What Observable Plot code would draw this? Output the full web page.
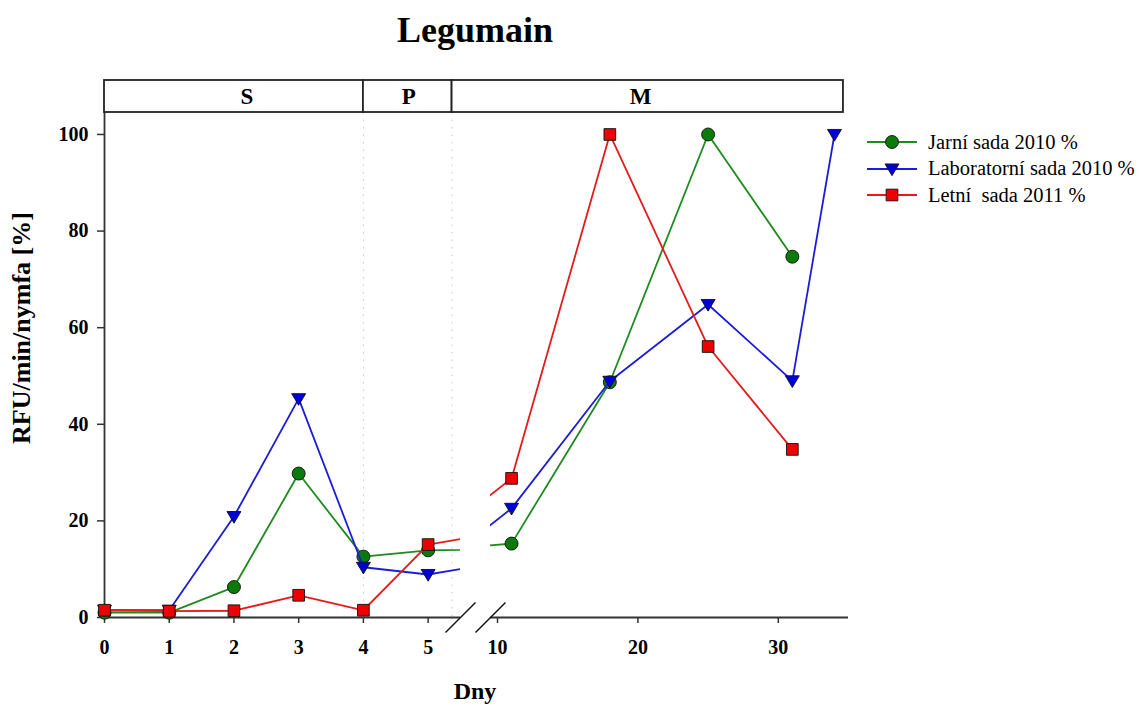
<!DOCTYPE html>
<html>
<head>
<meta charset="utf-8">
<script src="https://cdn.jsdelivr.net/npm/d3@7"></script>
<script src="https://cdn.jsdelivr.net/npm/@observablehq/plot@0.6"></script>
<style>
  body { margin: 0; background: #fff; }
  #chart { position: relative; width: 1144px; height: 706px; overflow: hidden;
           font-family: "Liberation Serif", "Times New Roman", serif; color: #000; }
  #chart svg.layer { position: absolute; left: 0; top: 0; }
  .title { position: absolute; left: 275px; width: 400px; top: 12px; text-align: center;
           font-weight: bold; font-size: 36px; line-height: 36px; }
  .ylab { position: absolute; left: -178px; width: 400px; top: 315px; text-align: center;
          font-weight: bold; font-size: 26px; line-height: 26px; transform: rotate(-90deg); }
  .xlab { position: absolute; left: 375px; width: 200px; top: 679px; text-align: center;
          font-weight: bold; font-size: 24px; line-height: 24px; }
  .legend { position: absolute; left: 866px; top: 129px; font-size: 20.5px; }
  .legend .row { height: 26.5px; display: flex; align-items: center; white-space: pre; }
  .legend svg { margin-right: 10px; }
</style>
</head>
<body>
<div id="chart">
  <div class="title">Legumain</div>
  <div class="ylab">RFU/min/nymfa [%]</div>
  <div class="xlab">Dny</div>
  <div class="legend" id="legend"></div>
</div>
<script>
// ---------- data ----------
const seriesNames = ["Jarní sada 2010 %", "Laboratorní sada 2010 %", "Letní  sada 2011 %"];
const jarniDays   = [0, 1, 2, 3, 4, 5, 11, 18, 25, 31];
const jarniValues = [1.0, 1.0, 6.3, 29.8, 12.6, 13.9, 15.3, 48.7, 100, 74.7];
const labDays     = [0, 1, 2, 3, 4, 5, 11, 18, 25, 31, 34];
const labValues   = [1.5, 1.5, 20.9, 45.3, 10.4, 8.9, 22.6, 48.9, 64.8, 49.0, 100];
const letniDays   = [0, 1, 2, 3, 4, 5, 11, 18, 25, 31];
const letniValues = [1.5, 1.3, 1.4, 4.6, 1.5, 15.1, 28.8, 100, 56.1, 34.8];
const leftTicks  = [0, 1, 2, 3, 4, 5];
const rightTicks = [10, 20, 30];
const yTicks     = [0, 20, 40, 60, 80, 100];
const phases       = ["S", "P", "M"];
const phaseStart   = [0, 4, 5.37];
const phaseEnd     = [4, 5.37, 34.64];
const phaseLabelAt = [2.2, 4.7, 20.2];

// ---------- styling / layout ----------
const W = 1144, H = 706;
const leftDomain = [0, 5.5], rightDomain = [9.5, 35];
const leftRange = [104, 460], rightRange = [490, 848];
const yDomain = [0, 104.55];
const mTop = 112, mBottom = 89;
const lineColors = ["#1f8a1f", "#1c1cd8", "#e41b1b"];
const fillColors = ["#0a7a0a", "#0000dd", "#ee0000"];
const axisColor = "#333";

const triDown = { draw(ctx, size) { const r = Math.sqrt(size / Math.PI);
  ctx.moveTo(-r, -0.72 * r); ctx.lineTo(r, -0.72 * r); ctx.lineTo(0, 0.95 * r); ctx.closePath(); } };
const slash = { draw(ctx, size) { const r = Math.sqrt(size / Math.PI);
  ctx.moveTo(-r, r); ctx.lineTo(r, -r); } };
const symbols = ["circle", triDown, "square"];
const symbolR = [6.5, 7, 6.6];

const rows = [];
[[jarniDays, jarniValues], [labDays, labValues], [letniDays, letniValues]].forEach(([ds, vs], i) => {
  ds.forEach((d, j) => rows.push({ series: seriesNames[i], idx: i, day: d, value: vs[j] }));
});

function seriesMarks(lo, hi) {
  const marks = [];
  seriesNames.forEach((name, i) => {
    const data = rows.filter(r => r.idx === i);
    marks.push(Plot.line(data, { x: "day", y: "value", stroke: lineColors[i], strokeWidth: 1.8, clip: true }));
    marks.push(Plot.dot(data, { x: "day", y: "value", filter: r => r.day >= lo && r.day <= hi,
      symbol: symbols[i], r: symbolR[i], fill: fillColors[i], stroke: "#111", strokeWidth: 0.9 }));
  });
  return marks;
}

const baseStyle = { background: "transparent", overflow: "visible",
  fontFamily: '"Liberation Serif", "Times New Roman", serif', fontSize: "20px", fontWeight: "bold" };

// left panel
const leftPlot = Plot.plot({
  width: W, height: H,
  marginLeft: leftRange[0], marginRight: W - leftRange[1], marginTop: mTop, marginBottom: mBottom,
  style: baseStyle,
  x: { domain: leftDomain },
  y: { domain: yDomain },
  marks: [
    Plot.ruleX(phaseStart.slice(1), { stroke: "#c8c8c8", strokeDasharray: "1.5,6", strokeWidth: 1 }),
    Plot.axisY({ ticks: yTicks, tickSize: 7, tickPadding: 9, tickFormat: d => String(d), label: null,
                 stroke: axisColor, strokeWidth: 1.5 }),
    Plot.axisX({ ticks: leftTicks, tickSize: 6, tickPadding: 16, tickFormat: d => String(d), label: null,
                 stroke: axisColor, strokeWidth: 1.5 }),
    Plot.ruleX([leftDomain[0]], { stroke: axisColor, strokeWidth: 1.8 }),
    Plot.ruleY([0], { stroke: axisColor, strokeWidth: 1.8 }),
    ...seriesMarks(leftDomain[0], leftDomain[1]),
    Plot.dot([leftDomain[1]], { x: d => d, y: () => 0, symbol: slash, r: 15, stroke: "#111", strokeWidth: 1.4, fill: "none" })
  ]
});

// right panel
const rightPlot = Plot.plot({
  width: W, height: H,
  marginLeft: rightRange[0], marginRight: W - rightRange[1], marginTop: mTop, marginBottom: mBottom,
  style: baseStyle,
  x: { domain: rightDomain },
  y: { domain: yDomain, axis: null },
  marks: [
    Plot.axisX({ ticks: rightTicks, tickSize: 6, tickPadding: 16, tickFormat: d => String(d), label: null,
                 stroke: axisColor, strokeWidth: 1.5 }),
    Plot.ruleY([0], { stroke: axisColor, strokeWidth: 1.8 }),
    ...seriesMarks(rightDomain[0], rightDomain[1]),
    Plot.dot([rightDomain[0]], { x: d => d, y: () => 0, symbol: slash, r: 15, stroke: "#111", strokeWidth: 1.4, fill: "none" })
  ]
});

// header band (piecewise scale spanning the break)
const headerPlot = Plot.plot({
  width: W, height: H,
  marginTop: 80, marginBottom: H - mTop, marginLeft: leftRange[0], marginRight: W - rightRange[1],
  style: { ...baseStyle, fontSize: "23px" },
  x: { type: "linear", domain: [leftDomain[0], leftDomain[1], rightDomain[0], rightDomain[1]],
       range: [leftRange[0], leftRange[1], rightRange[0], rightRange[1]], axis: null },
  marks: [
    Plot.rect(phases, { x1: (d, i) => phaseStart[i], x2: (d, i) => phaseEnd[i], fill: "white",
                        stroke: "#222", strokeWidth: 1.8 }),
    Plot.text(phases, { x: (d, i) => phaseLabelAt[i], text: d => d, frameAnchor: "middle", fill: "#000" })
  ]
});

const chart = document.getElementById("chart");
[leftPlot, rightPlot, headerPlot].forEach(p => { p.classList.add("layer"); chart.appendChild(p); });

// legend
const legend = document.getElementById("legend");
seriesNames.forEach((name, i) => {
  const row = document.createElement("div");
  row.className = "row";
  const sw = d3.create("svg").attr("width", 52).attr("height", 20);
  sw.append("line").attr("x1", 1).attr("x2", 51).attr("y1", 10).attr("y2", 10)
    .attr("stroke", lineColors[i]).attr("stroke-width", 1.8);
  const sym = typeof symbols[i] === "string" ? (symbols[i] === "circle" ? d3.symbolCircle : d3.symbolSquare) : symbols[i];
  sw.append("path").attr("transform", "translate(26,10)")
    .attr("d", d3.symbol(sym, Math.PI * symbolR[i] * symbolR[i])())
    .attr("fill", fillColors[i]).attr("stroke", "#111").attr("stroke-width", 0.9);
  row.appendChild(sw.node());
  const t = document.createElement("span");
  t.textContent = name;
  row.appendChild(t);
  legend.appendChild(row);
});
</script>
</body>
</html>
